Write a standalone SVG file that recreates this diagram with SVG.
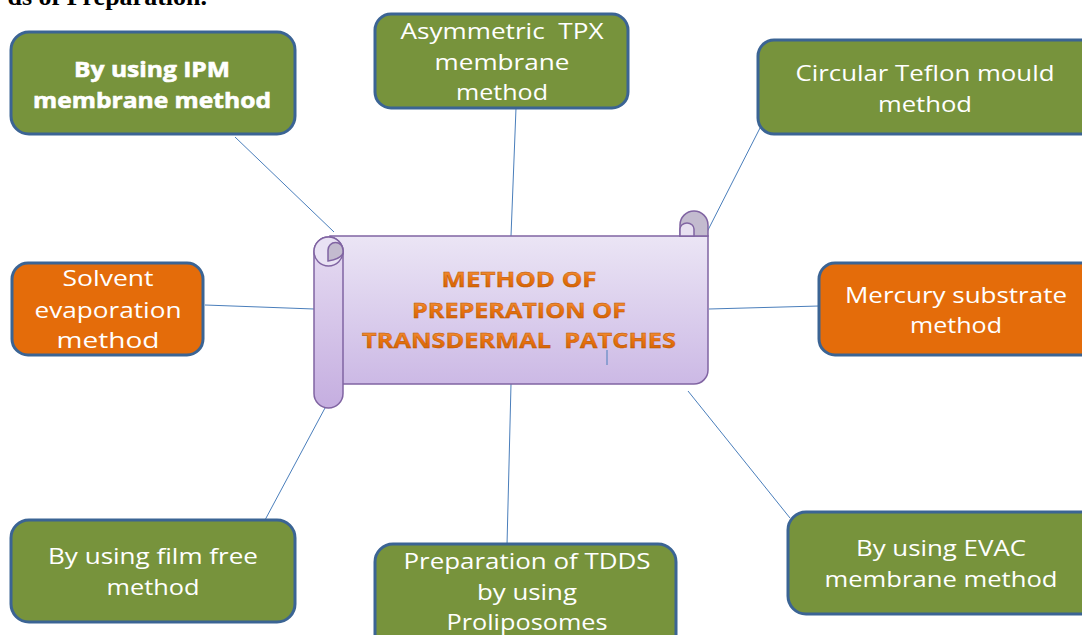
<svg xmlns="http://www.w3.org/2000/svg" width="1082" height="635" viewBox="0 0 1082 635">
<defs>
<linearGradient id="bodyG" x1="0" y1="0" x2="0" y2="1">
<stop offset="0" stop-color="#EBE5F5"/>
<stop offset="1" stop-color="#CCB9E5"/>
</linearGradient>
<linearGradient id="rollG" x1="0" y1="0" x2="0" y2="1">
<stop offset="0" stop-color="#E6DCF2"/>
<stop offset="1" stop-color="#C5AEE0"/>
</linearGradient>
<linearGradient id="txtG" x1="0" y1="0" x2="0" y2="1">
<stop offset="0" stop-color="#F9A65A"/>
<stop offset="0.55" stop-color="#E8720F"/>
<stop offset="1" stop-color="#C85A00"/>
</linearGradient>
<style>
.box{stroke:#3B6494;stroke-width:3}
.g{fill:#77933C}
.o{fill:#E46C0A}
.t{font-family:"Open Sans","Liberation Sans",sans-serif;font-size:22px;fill:#FFFFFF;text-anchor:middle;white-space:pre}
.tb{font-family:"Open Sans","Liberation Sans",sans-serif;font-weight:bold;font-size:22px;fill:#FFFFFF;stroke:#FFFFFF;stroke-width:0.6;text-anchor:middle}
.c{stroke:#4A7EBB;stroke-width:1;fill:none}
.sc{stroke:#8064A2;stroke-width:1.5}
.ct{font-family:"Open Sans","Liberation Sans",sans-serif;font-weight:bold;font-size:22px;fill:url(#txtG);stroke:#B85300;stroke-width:0.4;text-anchor:middle;white-space:pre}
</style>
</defs>
<rect width="1082" height="635" fill="#FFFFFF"/>
<text x="207" y="5" font-family="'Liberation Serif',serif" font-weight="bold" font-size="26" text-anchor="end" fill="#000">ds of Preparation.</text>
<g id="connectors">
<line class="c" x1="235" y1="137" x2="334" y2="232"/>
<line class="c" x1="516" y1="108" x2="511" y2="236"/>
<line class="c" x1="760" y1="128" x2="707" y2="232"/>
<line class="c" x1="205" y1="305" x2="314" y2="309"/>
<line class="c" x1="709" y1="309" x2="819" y2="306"/>
<line class="c" x1="325" y1="408" x2="265" y2="520"/>
<line class="c" x1="511" y1="384" x2="507" y2="545"/>
<line class="c" x1="688" y1="391" x2="790" y2="518"/>
</g>
<g id="center">
<path class="sc" d="M330,236 H708 V370 A14 14 0 0 1 694 384 H330 Z" fill="url(#bodyG)"/>
<path class="sc" d="M680,236 V225 A14 14 0 0 1 708 225 V236 Z" fill="#C3BBCF"/>
<path class="sc" d="M680,236 V229 A7 6 0 0 1 694 229 V236 Z" fill="#E7E0F1"/>
<rect class="sc" x="314" y="237" width="29" height="171" rx="14.5" fill="url(#rollG)"/>
<circle class="sc" cx="328.5" cy="251.5" r="14.5" fill="#E9E2F4"/>
<path class="sc" d="M328,261 V250 A7.5 7.5 0 0 1 343 250 V253 Q341 259 328 261 Z" fill="#C3BBCF"/>
<text class="ct" x="519" y="287" textLength="155" lengthAdjust="spacingAndGlyphs">METHOD OF</text>
<text class="ct" x="519" y="318" textLength="214" lengthAdjust="spacingAndGlyphs">PREPERATION OF</text>
<text class="ct" x="519" y="348" textLength="314" lengthAdjust="spacingAndGlyphs">TRANSDERMAL  PATCHES</text>
<line class="c" x1="607" y1="350" x2="607" y2="365"/>
</g>
<g id="ipm">
<rect class="box g" x="11" y="32" width="284" height="102" rx="18"/>
<text class="tb" x="152" y="77" textLength="156" lengthAdjust="spacingAndGlyphs">By using IPM</text>
<text class="tb" x="152" y="108" textLength="238" lengthAdjust="spacingAndGlyphs">membrane method</text>
</g>
<g id="tpx">
<rect class="box g" x="375" y="14" width="253" height="94" rx="16"/>
<text class="t" x="502" y="39" textLength="203" lengthAdjust="spacingAndGlyphs">Asymmetric  TPX</text>
<text class="t" x="502" y="70" textLength="135" lengthAdjust="spacingAndGlyphs">membrane</text>
<text class="t" x="502" y="100" textLength="92" lengthAdjust="spacingAndGlyphs">method</text>
</g>
<g id="teflon">
<rect class="box g" x="758" y="40" width="340" height="94" rx="16"/>
<text class="t" x="925" y="81" textLength="259" lengthAdjust="spacingAndGlyphs">Circular Teflon mould</text>
<text class="t" x="925" y="112" textLength="94" lengthAdjust="spacingAndGlyphs">method</text>
</g>
<g id="solvent">
<rect class="box o" x="12" y="263" width="191" height="92" rx="16"/>
<text class="t" x="108" y="286" textLength="91" lengthAdjust="spacingAndGlyphs">Solvent</text>
<text class="t" x="108" y="318" textLength="147" lengthAdjust="spacingAndGlyphs">evaporation</text>
<text class="t" x="108" y="348" textLength="103" lengthAdjust="spacingAndGlyphs">method</text>
</g>
<g id="mercury">
<rect class="box o" x="819" y="263" width="280" height="92" rx="16"/>
<text class="t" x="956" y="303" textLength="222" lengthAdjust="spacingAndGlyphs">Mercury substrate</text>
<text class="t" x="956" y="333" textLength="92" lengthAdjust="spacingAndGlyphs">method</text>
</g>
<g id="filmfree">
<rect class="box g" x="11" y="520" width="284" height="102" rx="18"/>
<text class="t" x="153" y="564" textLength="210" lengthAdjust="spacingAndGlyphs">By using film free</text>
<text class="t" x="153" y="595" textLength="93" lengthAdjust="spacingAndGlyphs">method</text>
</g>
<g id="evac">
<rect class="box g" x="788" y="512" width="310" height="102" rx="18"/>
<text class="t" x="941" y="556" textLength="170" lengthAdjust="spacingAndGlyphs">By using EVAC</text>
<text class="t" x="941" y="587" textLength="233" lengthAdjust="spacingAndGlyphs">membrane method</text>
</g>
<g id="proliposomes">
<rect class="box g" x="375" y="544" width="301" height="110" rx="18"/>
<text class="t" x="527" y="569" textLength="247" lengthAdjust="spacingAndGlyphs">Preparation of TDDS</text>
<text class="t" x="527" y="600" textLength="100" lengthAdjust="spacingAndGlyphs">by using</text>
<text class="t" x="527" y="630" textLength="161" lengthAdjust="spacingAndGlyphs">Proliposomes</text>
</g>
</svg>
